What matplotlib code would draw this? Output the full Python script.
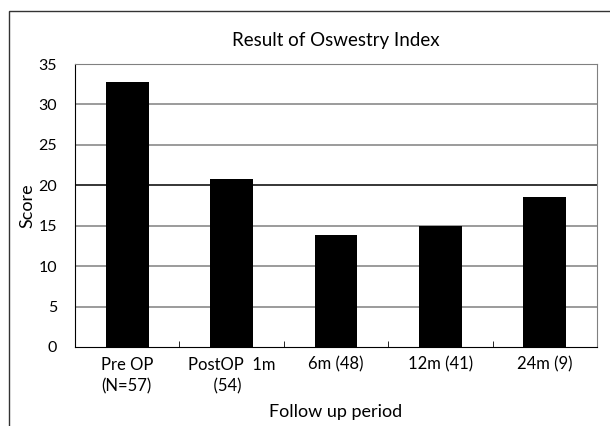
import matplotlib.pyplot as plt
from matplotlib.patches import Rectangle

plt.rcParams.update({
    "font.family": ["Lato", "DejaVu Sans"],
    "font.size": 12,
})

categories = ["Pre OP\n(N=57)", "PostOP  1m\n      (54)", "6m (48)", "12m (41)", "24m (9)"]
scores = [32.8, 20.8, 13.85, 15.0, 18.55]
yticks = [0, 5, 10, 15, 20, 25, 30, 35]

fig = plt.figure(figsize=(6.10, 4.26), dpi=100)
ax = fig.add_axes([75 / 610, 1 - 347 / 426, 522 / 610, 283 / 426])

# outer frame (cut off at right and bottom like the source)
fig.patches.append(Rectangle((9 / 610, -0.1), 1.2, 1 - 11 / 426 + 0.1,
                             transform=fig.transFigure, fill=False,
                             edgecolor="#333333", linewidth=1.0))

x = list(range(len(categories)))
ax.bar(x, scores, width=0.41, color="black", zorder=3)

ax.set_xlim(-0.5, len(categories) - 0.5)
ax.set_ylim(0, 35)
ax.set_yticks(yticks)
for v in yticks[1:-1]:
    ax.axhline(v, color="black" if v == 20 else "#808080", linewidth=1.1, zorder=1)

ax.set_xticks(x)
ax.set_xticklabels(categories, multialignment="left", linespacing=1.45)
ax.set_xticks([i + 0.5 for i in x[:-1]], minor=True)
ax.tick_params(axis="x", which="major", length=0, pad=7)
ax.tick_params(axis="x", which="minor", direction="in", length=4, color="black")
ax.tick_params(axis="y", length=0, pad=13, labelsize=11.5)

for s in ["top", "right"]:
    ax.spines[s].set_color("#808080")
for s in ["left", "bottom"]:
    ax.spines[s].set_color("black")

ax.set_title("Result of Oswestry Index", fontsize=13.5, pad=13)
ax.set_ylabel("Score", fontsize=13)
ax.yaxis.set_label_coords(-0.075, 0.5)
ax.set_xlabel("Follow up period", fontsize=13, labelpad=7)

fig.savefig("out.png", dpi=100)
